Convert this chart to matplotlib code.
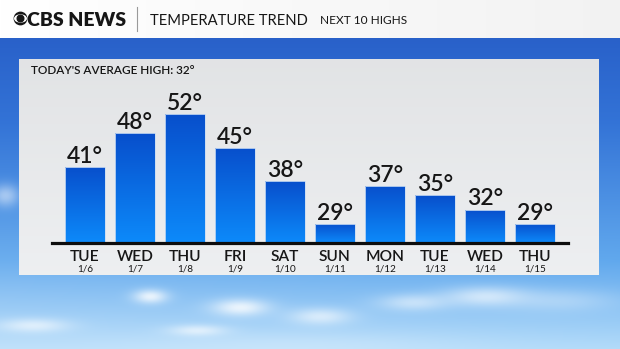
import numpy as np
import matplotlib
matplotlib.use("Agg")
import matplotlib.pyplot as plt
from matplotlib.patches import Circle, Ellipse

W, H = 620, 349
plt.rcParams['font.family'] = ['Lato', 'DejaVu Sans']

# data
days = ["TUE", "WED", "THU", "FRI", "SAT", "SUN", "MON", "TUE", "WED", "THU"]
dates = ["1/6", "1/7", "1/8", "1/9", "1/10", "1/11", "1/12", "1/13", "1/14", "1/15"]
highs = [41, 48, 52, 45, 38, 29, 37, 35, 32, 29]
avg_high = 32

title = "TEMPERATURE TREND"
subtitle = "NEXT 10 HIGHS"
ink = "#161616"

fig = plt.figure(figsize=(W / 100, H / 100), dpi=100)

### background: sky gradient + soft clouds, header band, panel
bg = fig.add_axes([0, 0, 1, 1])
bg.set_xlim(0, W)
bg.set_ylim(H, 0)
bg.axis("off")

yy, xx = np.mgrid[0:H, 0:W].astype(float)
stops_y = [38, 120, 260, 349]
stops_c = np.array([[0.16, 0.38, 0.79], [0.20, 0.45, 0.84], [0.38, 0.66, 0.93], [0.70, 0.86, 0.98]])
sky = np.stack([np.interp(yy, stops_y, stops_c[:, k]) for k in range(3)], axis=-1)
lift = np.clip((yy - 200) / 149, 0, 1) * (1 - xx / W) * 0.18
sky = sky + (1 - sky) * lift[..., None]
clouds = [(150, 296, 12, 5, 0.8), (240, 307, 20, 6, 0.8), (320, 316, 22, 6, 0.6), (413, 302, 25, 6, 0.5),
          (485, 296, 30, 7, 0.6), (33, 325, 25, 5, 0.6), (197, 330, 20, 4, 0.6), (560, 300, 40, 8, 0.3),
          (5, 195, 10, 8, 0.5), (300, 345, 120, 10, 0.2)]
for cx, cy, sx, sy, a in clouds:
    g = a * np.exp(-((xx - cx) ** 2 / (2 * sx ** 2) + (yy - cy) ** 2 / (2 * sy ** 2)))
    sky = sky + (1 - sky) * g[..., None]
bg.imshow(np.clip(sky, 0, 1), extent=[0, W, H, 0], aspect="auto", zorder=0)

# header band (white -> light grey)
hdr = np.linspace(1.0, 0.95, W)
bg.imshow(np.tile(hdr, (2, 1))[..., None].repeat(3, axis=2), extent=[0, W, 38, 0],
          aspect="auto", zorder=1)
bg.plot([137, 137], [7, 31], color="#9a9a9a", lw=0.8, zorder=2)

# panel
pan = np.linspace(0.90, 0.945, 50)
bg.imshow(np.stack([pan * 0.985, pan * 0.992, pan], axis=-1)[:, None, :].repeat(2, axis=1),
          extent=[19, 599, 275, 59], aspect="auto", zorder=1)

# CBS eye logo
bg.add_patch(Circle((20.5, 18.5), 6.2, color=ink, zorder=3))
bg.add_patch(Ellipse((20.5, 18.5), 11.5, 7.0, color="white", zorder=4))
bg.add_patch(Circle((20.5, 18.5), 3.3, color=ink, zorder=5))


def ftext(x, y, s, **kw):
    fig.text(x / W, 1 - y / H, s, color=ink, va="baseline", **kw)


ftext(27, 25.7, "CBS NEWS", fontsize=14, fontweight="heavy")
ftext(150, 25, title, fontsize=10.6)
ftext(320, 24.5, subtitle, fontsize=8.6)
ftext(31, 74.5, f"TODAY'S AVERAGE HIGH: {avg_high}°", fontsize=8.5, fontweight="semibold")

### chart axes: baseline 52..568 px, y from 243 (25) up to 60 px
ax = fig.add_axes([52 / W, (H - 243) / H, (568 - 52) / W, (243 - 60) / H])
ax.patch.set_alpha(0)
x = np.arange(len(highs))
for s in ax.spines.values():
    s.set_visible(False)
ax.set_xticks([])
ax.set_yticks([])

bars = ax.bar(x, highs, width=0.8, facecolor="none", edgecolor="#c9dcf2", linewidth=0.6, zorder=3)
grad = np.linspace([0.03, 0.31, 0.80], [0.05, 0.54, 0.98], 64)[:, None, :]
for b in bars:
    x0, w, h = b.get_x(), b.get_width(), b.get_height()
    im = ax.imshow(grad, extent=[x0, x0 + w, 25, h], aspect="auto", zorder=2, interpolation="bilinear")
    im.set_clip_path(b)
ax.set_xlim(-0.66, len(highs) - 1 + 0.66)
ax.set_ylim(25, 63.4)

ax.axhline(25, color="#0d0d0d", lw=2.3, clip_on=False, zorder=4)

for i, v in enumerate(highs):
    ax.annotate(f"{v}°", (i, v), xytext=(0, 3), textcoords="offset points",
                ha="center", va="baseline", fontsize=16.5, fontweight="semibold", color=ink)
    ax.annotate(days[i], (i, 0), xycoords=("data", "axes fraction"), xytext=(0, -13.3),
                textcoords="offset points", ha="center", va="baseline", fontsize=11.2,
                fontweight="semibold", color=ink)
    ax.annotate(dates[i], (i, 0), xycoords=("data", "axes fraction"), xytext=(0, -20.6),
                textcoords="offset points", ha="center", va="baseline", fontsize=7.2,
                color=ink)

fig.savefig("out.png", dpi=100)
